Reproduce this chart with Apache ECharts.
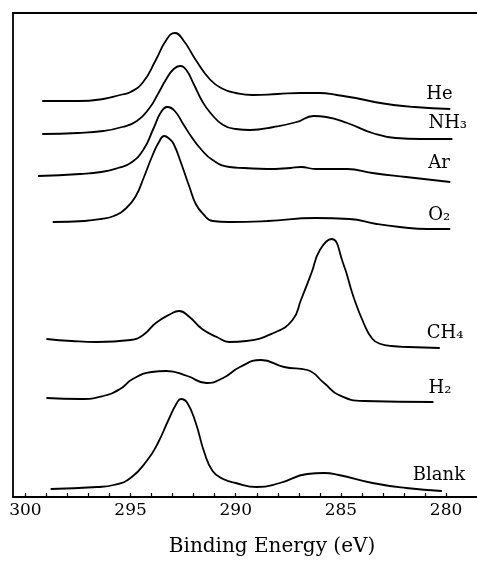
<!DOCTYPE html>
<html>
<head>
<meta charset="utf-8">
<script src="https://cdn.jsdelivr.net/npm/echarts@6/dist/echarts.min.js"></script>
<style>
  html, body { margin: 0; padding: 0; background: #fff; }
  #chart { width: 477px; height: 571px; }
</style>
</head>
<body>
<div id="chart"></div>
<script>
// binding energy (eV), offset intensity (arb. units)
const he = [[299.2,396],[297.5,396],[296.3,398],[295.5,402],[295.0,405],[294.4,415],[293.8,437],[293.3,457],[292.9,464],[292.5,457],[291.9,437],[291.2,417],[290.6,408],[290.0,404],[289.2,402],[288.0,403],[286.9,404],[286.0,404],[285.2,402],[284.3,399],[283.4,395],[282.5,392],[281.5,390],[279.8,388]];
const nh3 = [[299.2,363],[297.5,364],[296.3,366],[295.4,370],[294.7,376],[294.1,389],[293.7,403],[293.3,418],[292.95,428],[292.65,431],[292.35,427],[292.0,413],[291.6,396],[291.2,384],[290.6,372],[290.0,368],[289.3,367],[288.2,370],[287.1,375],[286.3,381],[285.7,380],[284.7,374],[283.5,364],[282.4,359],[281.2,358],[279.7,358]];
const ar = [[299.4,321],[297.4,323],[296.4,325],[295.6,329],[295.0,334],[294.4,347],[293.9,369],[293.55,385],[293.25,390],[292.9,386],[292.5,373],[292.1,360],[291.7,349],[291.1,337],[290.3,330],[289.6,329],[288.5,328],[287.4,329],[286.9,330],[286.2,328],[284.7,328],[283.5,324],[281.9,320],[279.8,315]];
const o2 = [[298.7,275],[297.2,276],[296.4,278],[295.8,281],[295.2,289],[294.75,301],[294.4,318],[293.95,342],[293.65,355],[293.4,361],[293.15,358],[292.95,353],[292.6,334],[292.2,310],[291.9,293],[291.55,283],[291.1,276],[290.3,275],[288.5,276],[286.2,279],[284.6,278],[283.3,273],[282.2,270],[280.9,268],[279.8,268]];
const ch4 = [[299.0,158],[297.8,156],[296.6,155],[295.0,157],[294.4,162],[293.8,174],[293.1,183],[292.7,186],[292.2,180],[291.6,168],[290.9,160],[290.3,155],[289.5,156],[288.2,164],[287.3,177],[286.9,197],[286.4,224],[286.0,247],[285.45,258],[284.9,234],[284.4,200],[283.9,173],[283.5,158],[283.1,153],[282.6,151],[281.8,150],[280.3,149]];
const h2 = [[299.0,99],[297.4,98],[296.3,101],[295.5,108],[294.9,118],[294.0,125],[293.3,126],[292.3,121],[291.4,114],[290.6,119],[289.8,130],[288.8,137],[287.7,130],[286.6,127],[285.8,114],[285.1,102],[283.9,96],[280.6,95]];
const blank = [[298.8,8],[296.6,10],[295.8,12],[295.0,19],[294.2,37],[293.7,54],[293.2,77],[292.8,94],[292.6,98],[292.3,94],[291.9,74],[291.5,45],[291.1,26],[290.6,18],[290.0,14],[289.0,10],[287.9,14],[286.6,23],[285.8,24],[285.1,22],[283.5,14],[281.9,9],[280.2,6]];

const names = ['He', 'NH₃', 'Ar', 'O₂', 'CH₄', 'H₂', 'Blank'];
const spectra = [he, nh3, ar, o2, ch4, h2, blank];
const tickValues = [280, 281, 282, 283, 284, 285, 286, 287, 288, 289, 290, 291, 292, 293, 294, 295, 296, 297, 298, 299, 300];
const labelValues = [280, 285, 290, 295, 300];

// where each name sits relative to the end of its curve
const labelOffsets = [[-24, -15], [-24, -16], [-22, -19], [-22, -14], [-13, -15], [-5, -14], [-29, -16]];

const font = 'DejaVu Serif';
const chart = echarts.init(document.getElementById('chart'));

const series = spectra.map(function (d, i) {
  return {
    name: names[i],
    type: 'line',
    data: d,
    smooth: 0.5,
    showSymbol: false,
    symbol: 'none',
    animation: false,
    lineStyle: { color: '#000', width: 1.8 },
    endLabel: {
      show: true,
      formatter: names[i],
      align: 'left',
      verticalAlign: 'middle',
      distance: 0,
      offset: labelOffsets[i],
      color: '#000',
      fontFamily: font,
      fontSize: 18
    }
  };
});

chart.setOption({
  backgroundColor: '#fff',
  animation: false,
  grid: { left: 13, right: 0, top: 13, bottom: 74 },
  xAxis: [
    {
      type: 'value',
      inverse: true,
      min: 278.53,
      max: 300.59,
      position: 'bottom',
      axisLine: { show: true, lineStyle: { color: '#000', width: 1.8 } },
      axisTick: { show: true, inside: true, length: 4, customValues: tickValues, lineStyle: { color: '#000', width: 1.2 } },
      axisLabel: { show: true, customValues: labelValues, margin: 5, color: '#000', fontFamily: font, fontSize: 17 },
      splitLine: { show: false },
      name: 'Binding Energy (eV)',
      nameLocation: 'middle',
      nameGap: 40,
      nameTextStyle: { color: '#000', fontFamily: font, fontSize: 20, padding: [0, 0, 0, 54] }
    },
    {
      type: 'value',
      inverse: true,
      min: 278.53,
      max: 300.59,
      position: 'top',
      axisLine: { show: true, lineStyle: { color: '#000', width: 1.8 } },
      axisTick: { show: false },
      axisLabel: { show: false },
      splitLine: { show: false }
    }
  ],
  yAxis: {
    type: 'value',
    min: 0,
    max: 484,
    axisLine: { show: true, lineStyle: { color: '#000', width: 1.8 } },
    axisTick: { show: false },
    axisLabel: { show: false },
    splitLine: { show: false }
  },
  series: series
});
</script>
</body>
</html>
